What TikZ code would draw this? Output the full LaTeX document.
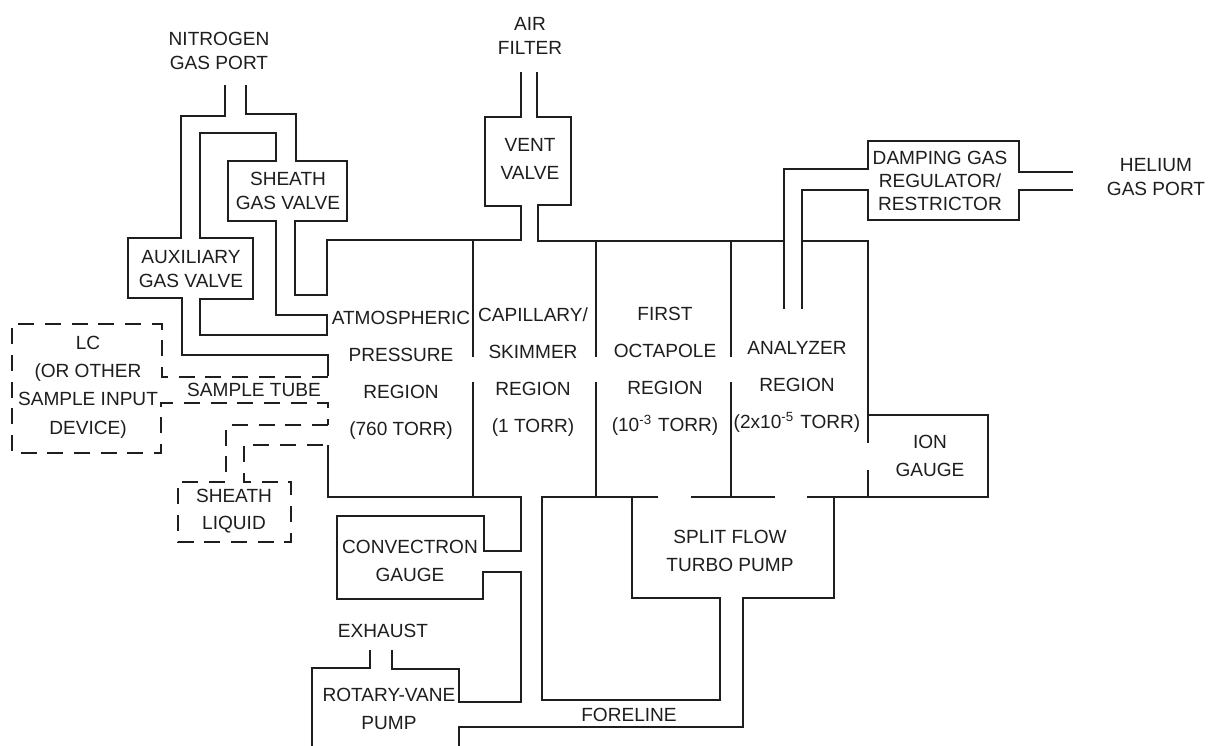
\documentclass[tikz,border=0pt]{standalone}
\usepackage{fontspec}
\setmainfont{Liberation Sans}
\definecolor{msInk}{HTML}{1E1E1E}
\tikzset{
    wall/.style={draw=msInk, line width=1.6pt, line join=miter},
    thinwall/.style={draw=msInk, line width=1.35pt},
    sampleline/.style={draw=msInk, line width=1.6pt, dash pattern=on 12pt off 8pt},
    lbl/.style={text=msInk, align=center, inner sep=0pt, font=\fontsize{14.3}{17.5}\selectfont},
    lblwide/.style={lbl, font=\fontsize{14.3}{20.5}\selectfont},
    lblregion/.style={lbl, font=\fontsize{14.3}{27.8}\selectfont}
}
\begin{document}
\begin{tikzpicture}[x=0.75pt, y=-0.75pt]
\useasboundingbox[fill=white] (0,0) rectangle (1211,746);
\node[lbl] (nitrogen) at (219,51) {NITROGEN\\GAS PORT};
\node[lbl] (air) at (530,36) {AIR\\FILTER};
\node[lbl] (helium) at (1156,177) {HELIUM\\GAS PORT};
\node[lbl] (vent) at (530,159) {VENT\\[4pt]VALVE};
\node[lbl] (sheathgas) at (288,191) {SHEATH\\GAS VALVE};
\node[lbl] (auxgas) at (191,269) {AUXILIARY\\GAS VALVE};
\node[lbl] (damping) at (940,181) {DAMPING GAS\\REGULATOR/\\RESTRICTOR};
\node[lblregion] (atm) at (401,375) {ATMOSPHERIC\\PRESSURE\\REGION\\(760 TORR)};
\node[lblregion] (capillary) at (533,372) {CAPILLARY/\\SKIMMER\\REGION\\(1 TORR)};
\node[lblregion] (octapole) at (665,371) {FIRST\\OCTAPOLE\\REGION\\(10\textsuperscript{-3}\,\,TORR)};
\node[lblregion] (analyzer) at (797,387) {ANALYZER\\REGION\\(2x10\textsuperscript{-5}\,\,TORR)};
\node[lbl, font=\fontsize{14.3}{21.3}\selectfont] (lc) at (88,387) {LC\\(OR OTHER\\SAMPLE INPUT\\DEVICE)};
\node[lbl] (tube) at (254,390) {SAMPLE TUBE};
\node[lblwide] (liquid) at (234,511) {SHEATH\\LIQUID};
\node[lblwide] (convectron) at (410,561) {CONVECTRON\\GAUGE};
\node[lbl] (exhaust) at (383,631) {EXHAUST};
\node[lblwide] (rotary) at (389,709) {ROTARY-VANE\\PUMP};
\node[lbl] (foreline) at (629,715) {FORELINE};
\node[lblwide] (turbo) at (730,551) {SPLIT FLOW\\TURBO PUMP};
\node[lblwide] (iongauge) at (930,456) {ION\\GAUGE};
% nitrogen lines and valves
\draw[wall] (225,85)--(225,116)--(181,116)--(181,238)--(128,238)--(128,298)--(182,298)--(182,355)--(328,355)--(328,376);
\draw[wall] (200,133)--(276,133)--(276,161)--(228,161)--(228,221)--(276,221)--(276,315)--(327,315)--(327,335)--(200,335)--(200,299)--(253,299)--(253,238)--(200,238)--cycle;
% housing top, vent valve
\draw[wall] (246,85)--(246,114)--(296,114)--(296,161)--(347,161)--(347,221)--(295,221)--(295,295)--(327,295)--(327,240)--(521,240)--(521,206)--(485,206)--(485,117)--(521,117)--(521,72);
\draw[wall] (537,72)--(537,117)--(571,117)--(571,205)--(538,205)--(538,241)--(784,241);
% damping gas
\draw[wall] (784,309)--(784,169)--(868,169)--(868,141)--(1019,141)--(1019,172)--(1073,172);
\draw[wall] (802,309)--(802,190)--(868,190)--(868,220)--(1019,220)--(1019,190)--(1073,190);
\draw[wall] (802,241)--(868,241)--(868,443);
% region walls
\foreach \wx in {473,596,731} {
    \draw[thinwall] (\wx,240)--(\wx,357);
    \draw[thinwall] (\wx,382)--(\wx,497);
}
\draw[wall] (868,470)--(868,497);
\draw[wall] (868,415)--(988,415)--(988,497)--(807,497);
% sample input
\draw[sampleline] (328,377)--(162,377)--(162,324)--(12,324)--(12,453)--(161,453)--(161,403)--(328,403)--(328,425);
\draw[sampleline] (328,425)--(226,425)--(226,482)--(178,482)--(178,542)--(291,542)--(291,482)--(244,482)--(244,445)--(328,445);
% foreline side and pumps
\draw[wall] (328,445)--(328,497)--(521,497)--(521,551)--(484,551)--(484,516)--(337,516)--(337,599)--(483,599)--(483,572)--(521,572)--(521,702)--(459,702)--(459,669)--(392,669)--(392,650);
\draw[wall] (370,650)--(370,668)--(312,668)--(312,746);
\draw[wall] (459,746)--(459,727)--(743,727)--(743,598)--(834,598)--(834,497);
\draw[wall] (658,497)--(542,497)--(542,700)--(720,700)--(720,598)--(632,598)--(632,497);
\draw[wall] (691,497)--(775,497);
\end{tikzpicture}
\end{document}
